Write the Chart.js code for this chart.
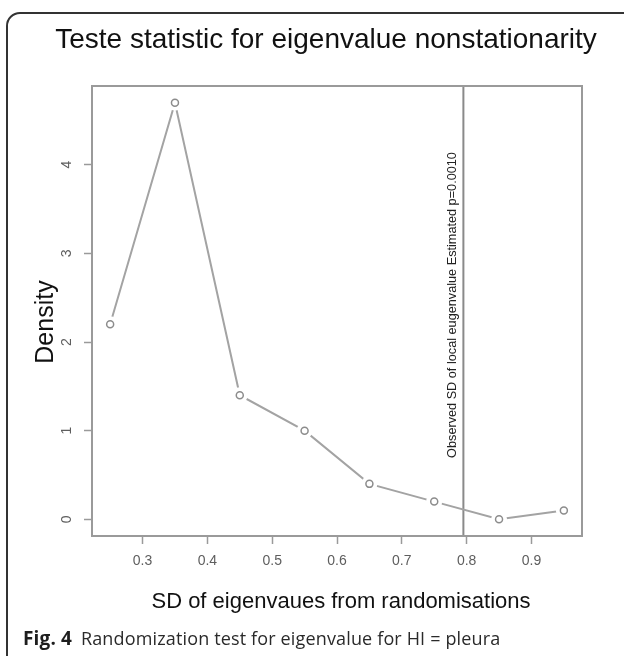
<!DOCTYPE html>
<html>
<head>
<meta charset="utf-8">
<script src="https://cdn.jsdelivr.net/npm/chart.js@4.4.1/dist/chart.umd.min.js"></script>
<style>
  html, body { margin: 0; padding: 0; background: #fff; width: 624px; height: 656px; overflow: hidden; }
  #wrap { position: absolute; left: 0; top: 0; width: 624px; height: 656px; }
  #frame { position: absolute; left: 6px; top: 12px; width: 660px; height: 700px; border: 2px solid #333; border-radius: 14px; box-sizing: border-box; pointer-events: none; }
  #caption { position: absolute; left: 23px; top: 628px; font-family: "Open Sans", sans-serif; font-size: 18px; color: #2a2a2a; white-space: nowrap; line-height: 20px; letter-spacing: 0.15px; }
  #caption b { font-weight: 700; font-size: 19px; margin-right: 4px; color: #1e1e1e; }
</style>
</head>
<body>
<div id="wrap">
  <canvas id="c" width="624" height="656"></canvas>
  <div id="frame"></div>
  <div id="caption"><b>Fig. 4</b> Randomization test for eigenvalue for HI = pleura</div>
</div>
<script>
// ---- data ----
const sdValues = [0.25, 0.35, 0.45, 0.55, 0.65, 0.75, 0.85, 0.95];
const density  = [2.2, 4.7, 1.4, 1.0, 0.4, 0.2, 0.0, 0.1];
const xTicks   = [0.3, 0.4, 0.5, 0.6, 0.7, 0.8, 0.9];
const yTicks   = [0, 1, 2, 3, 4];
const observedSD = 0.795;
const pValueText = "0.0010";
const titleText  = "Teste statistic for eigenvalue nonstationarity";
const xTitleText = "SD of eigenvaues from randomisations";
const yTitleText = "Density";
const obsLabel   = "Observed SD of local eugenvalue Estimated p=" + pValueText;

const points = sdValues.map((x, i) => ({ x: x, y: density[i] }));

const FONT = "'Liberation Sans', Arial, sans-serif";
const GRAY = '#9a9a9a';

const decorPlugin = {
  id: 'decor',
  beforeDatasetsDraw(chart) {
    const { ctx, chartArea: a, scales } = chart;
    ctx.save();
    // observed value vertical line
    const vx = scales.x.getPixelForValue(observedSD);
    ctx.strokeStyle = '#8a8a8a';
    ctx.lineWidth = 2;
    ctx.beginPath();
    ctx.moveTo(vx, a.top);
    ctx.lineTo(vx, a.bottom);
    ctx.stroke();
    // label along the line
    ctx.fillStyle = '#222';
    ctx.font = '12.7px ' + FONT;
    ctx.textAlign = 'center';
    ctx.textBaseline = 'alphabetic';
    ctx.translate(vx - 7, 305);
    ctx.rotate(-Math.PI / 2);
    ctx.fillText(obsLabel, 0, 0);
    ctx.restore();
  },
  afterDraw(chart) {
    const { ctx, chartArea: a } = chart;
    ctx.save();
    // plot box
    ctx.strokeStyle = GRAY;
    ctx.lineWidth = 2;
    ctx.strokeRect(a.left, a.top, a.right - a.left, a.bottom - a.top);
    // titles
    ctx.fillStyle = '#111';
    ctx.textAlign = 'center';
    ctx.textBaseline = 'alphabetic';
    ctx.font = '28px ' + FONT;
    ctx.fillText(titleText, 326, 48);
    ctx.font = '22px ' + FONT;
    ctx.fillText(xTitleText, 341, 608);
    ctx.font = '25px ' + FONT;
    ctx.translate(53, 322);
    ctx.rotate(-Math.PI / 2);
    ctx.fillText(yTitleText, 0, 0);
    ctx.restore();
  }
};

new Chart(document.getElementById('c'), {
  type: 'scatter',
  data: {
    datasets: [
      { // visible open circles (drawn last / on top)
        data: points, showLine: false,
        pointRadius: 3.5, pointBorderWidth: 1.5,
        pointBorderColor: '#8c8c8c', pointBackgroundColor: '#fff'
      },
      { // white gaps around points (R type="b")
        data: points, showLine: false,
        pointRadius: 8, pointBorderWidth: 0,
        pointBorderColor: '#fff', pointBackgroundColor: '#fff'
      },
      { // connecting line
        data: points, showLine: true, pointRadius: 0,
        borderColor: '#a3a3a3', borderWidth: 2, tension: 0, fill: false
      }
    ]
  },
  options: {
    responsive: false,
    animation: false,
    devicePixelRatio: 1,
    layout: { padding: { left: 0, top: 86, right: 42, bottom: 0 } },
    plugins: { legend: { display: false }, tooltip: { enabled: false }, title: { display: false } },
    scales: {
      x: {
        type: 'linear', min: 0.222, max: 0.978,
        afterBuildTicks: s => { s.ticks = xTicks.map(v => ({ value: v })); },
        afterFit: s => { s.height = 120; },
        border: { display: false },
        grid: { drawOnChartArea: false, drawTicks: true, tickLength: 8, tickColor: GRAY, tickWidth: 1.5, color: GRAY },
        ticks: { color: '#5e5e5e', font: { family: FONT, size: 14 }, padding: 9, maxRotation: 0, minRotation: 0,
                 callback: v => v.toFixed(1) }
      },
      y: {
        type: 'linear', min: -0.188, max: 4.888,
        afterBuildTicks: s => { s.ticks = yTicks.map(v => ({ value: v })); },
        afterFit: s => { s.width = 92; },
        border: { display: false },
        grid: { drawOnChartArea: false, drawTicks: true, tickLength: 8, tickColor: GRAY, tickWidth: 1.5, color: GRAY },
        ticks: { color: '#5e5e5e', font: { family: FONT, size: 14 }, padding: 13, minRotation: 90, maxRotation: 90,
                 crossAlign: 'center', callback: v => String(v) }
      }
    }
  },
  plugins: [decorPlugin]
});
</script>
</body>
</html>
